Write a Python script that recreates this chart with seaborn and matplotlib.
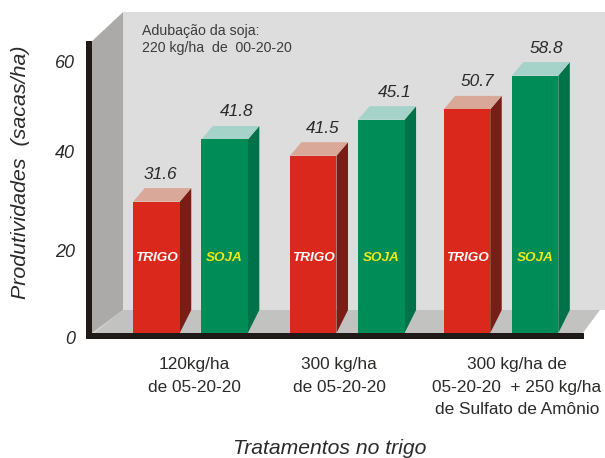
import matplotlib
matplotlib.use('Agg')
import matplotlib.pyplot as plt
from matplotlib.transforms import ScaledTranslation
import pandas as pd
import seaborn as sns

# values printed over the bars
trigo_labels = ['31.6', '41.5', '50.7']
soja_labels = ['41.8', '45.1', '58.8']
# bar heights as drawn in the picture (not proportional to the printed values)
trigo_heights = [29.2, 39.4, 49.7]
soja_heights = [43.0, 47.4, 57.2]
tratamentos = ['120kg/ha\nde 05-20-20',
               '300 kg/ha\nde 05-20-20',
               '300 kg/ha de\n05-20-20  + 250 kg/ha\nde Sulfato de Amônio']
y_tick_labels = ['0', '20', '40', '60']
y_tick_places = [0, 18.3, 40.3, 60.3]

W, H = 605, 458
sns.set_style('white')
plt.rcParams['font.family'] = ['Liberation Sans', 'DejaVu Sans']
TEXT = '#2b2a29'

df = pd.DataFrame({
    'tratamento': tratamentos * 2,
    'altura': trigo_heights + soja_heights,
    'cultura': ['TRIGO'] * 3 + ['SOJA'] * 3,
})

fig = plt.figure(figsize=(W / 100, H / 100), dpi=100)

# backdrop in pixel coordinates
bg = fig.add_axes([0, 0, 1, 1], zorder=0)
bg.set_xlim(0, W)
bg.set_ylim(H, 0)
bg.axis('off')
bg.fill([92, 605, 605, 92], [12, 12, 333, 333], color='#dddddd', lw=0)
bg.fill([92, 123, 123, 92], [41, 12, 310, 333], color='#abaaa8', lw=0)
bg.fill([94, 123, 600, 583], [333, 310, 310, 333], color='#c2c2c0', lw=0)
# corners outside the box stay white
bg.fill([92, 123, 92], [12, 12, 41], color='white', lw=0)
bg.fill([583, 605, 605, 600], [333, 333, 310, 310], color='white', lw=0)
bg.text(142, 31, 'Adubação da soja:', fontsize=10.2, color='#3c3c3c', va='center')
bg.text(142, 48, '220 kg/ha  de  00-20-20', fontsize=10.2, color='#3c3c3c', va='center')

# main axes: 92..605 px wide, value 0 at y=333 px, 4.5 px per unit
AX_L, AX_R, AX_B, AX_T = 92, 605, 333, 12
ax = fig.add_axes([AX_L / W, 1 - AX_B / H, (AX_R - AX_L) / W, (AX_B - AX_T) / H], zorder=1)
ax.patch.set_alpha(0)
red, green = '#da291c', '#008c57'
sns.barplot(data=df, x='tratamento', y='altura', hue='cultura',
            palette={'TRIGO': red, 'SOJA': green}, saturation=1,
            width=0.877, gap=0.316, legend=False, ax=ax, linewidth=0)

px_x = 155.25
px_y = 4.5
sns.despine(ax=ax, left=True, bottom=True)

# fake 3d faces, taken from the bars that seaborn drew
dx = 11.5 / px_x
dy = 13.5 / px_y
floor = 23 / px_y
faces = [(red, '#7a1d16', '#d9a898', trigo_labels, 'white', [4, 9, 10]),
         (green, '#00724a', '#a5d2c9', soja_labels, '#f5ea14', [12, 13, 11])]
group_shift = [0, 1.5 / px_x, 0]  # middle pair sits a bit to the right
for cont, (front, side, top, labels, name_col, nudge) in zip(ax.containers, faces):
    name = 'TRIGO' if front == red else 'SOJA'
    for bar, lab, nx, shift in zip(cont, labels, nudge, group_shift):
        bar.set_x(bar.get_x() + shift)
        x0 = bar.get_x()
        x1 = x0 + bar.get_width()
        h = bar.get_height()
        ax.fill([x1, x1 + dx, x1 + dx, x1], [0, floor, h + dy, h], color=side, lw=0, zorder=3)
        ax.fill([x0, x1, x1 + dx, x0 + dx], [h, h, h + dy, h + dy], color=top, lw=0, zorder=3)
        bar.set_zorder(4)
        ax.annotate(lab, ((x0 + x1) / 2, h), xytext=(nx * 0.72, 27.5 * 0.72),
                    textcoords='offset points', ha='center', va='center',
                    fontsize=12.4, style='italic', color=TEXT)
        ax.text((x0 + x1) / 2, 16.6, name, ha='center', va='center', fontsize=9.7,
                weight='bold', style='italic', color=name_col, zorder=5)

# black axis bars over everything
bg2 = fig.add_axes([0, 0, 1, 1], zorder=2)
bg2.set_xlim(0, W)
bg2.set_ylim(H, 0)
bg2.axis('off')
bg2.fill([86, 92, 92, 86], [41, 41, 339, 339], color='#1f1a17', lw=0)
bg2.fill([86, 584, 584, 86], [333, 333, 339, 339], color='#1f1a17', lw=0)

ax.set_yticks(y_tick_places, y_tick_labels, fontsize=13, style='italic', color=TEXT)
ax.set_xticks([(194 - 190.5) / px_x, (339 - 190.5) / px_x, (517 - 190.5) / px_x],
              tratamentos, fontsize=12.4, color=TEXT, linespacing=1.6)
ax.tick_params(axis='y', length=0, pad=12)
ax.tick_params(axis='x', length=0, pad=17.5)

ax.set_xlim((AX_L - 190.5) / px_x, (AX_R - 190.5) / px_x)
ax.set_ylim(0, (AX_B - AX_T) / px_y)

# the 0 sits a little under the axis line in the original
zero = ax.get_yticklabels()[0]
zero.set_transform(zero.get_transform() + ScaledTranslation(0, -3 / 72, fig.dpi_scale_trans))

ax.set_ylabel('Produtividades  (sacas/ha)', fontsize=15.4, style='italic', color=TEXT)
ax.yaxis.set_label_coords((21 - AX_L) / (AX_R - AX_L), (AX_B - 172) / (AX_B - AX_T))
ax.set_xlabel('Tratamentos no trigo', fontsize=15.2, style='italic', color=TEXT)
ax.xaxis.set_label_coords((330 - AX_L) / (AX_R - AX_L), (AX_B - 449) / (AX_B - AX_T))
ax.xaxis.label.set_va('center')
ax.yaxis.label.set_va('center')

fig.savefig('out.png', dpi=100)
